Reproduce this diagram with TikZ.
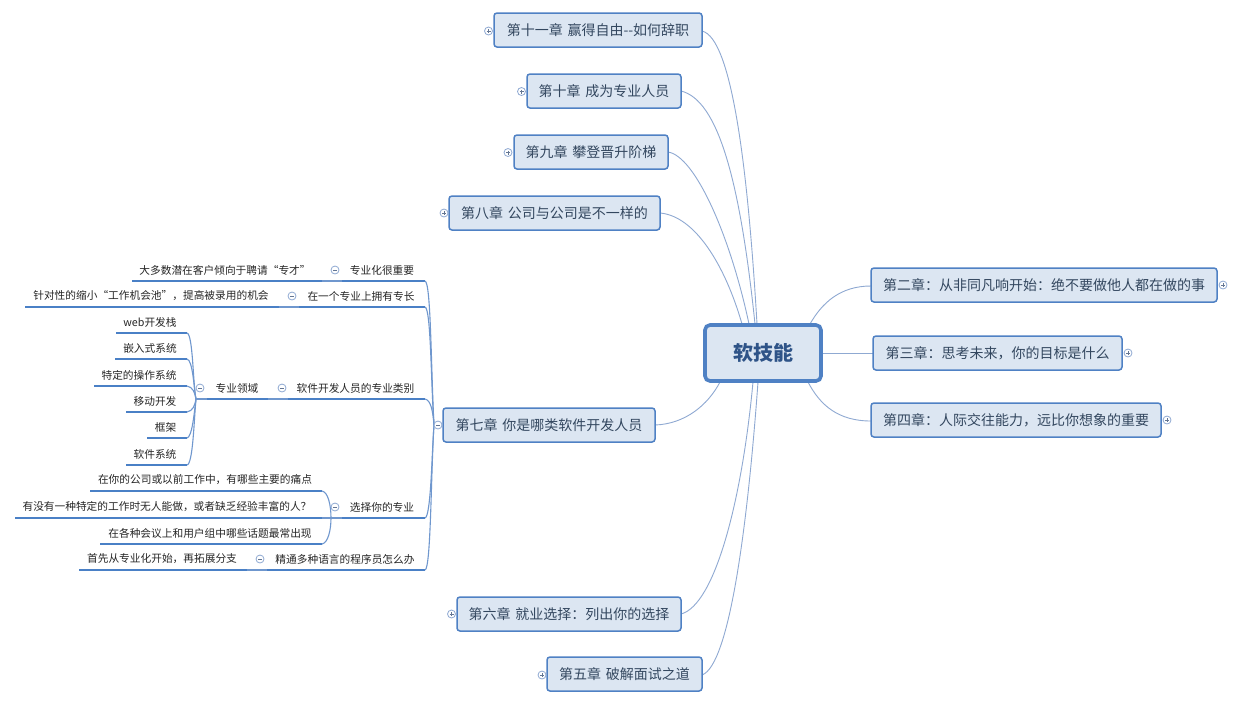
\documentclass[tikz,border=0pt]{standalone}
\usepackage{fontspec}
\newfontfamily\cjk{Noto Sans CJK SC}
\usetikzlibrary{calc}
\definecolor{boxfill}{HTML}{DCE6F2}
\definecolor{boxline}{HTML}{4F81C4}
\definecolor{linkc}{HTML}{8FA9D2}
\definecolor{treec}{HTML}{6F97CE}
\definecolor{ulc}{HTML}{4A80C6}
\definecolor{chaptxt}{HTML}{33475F}
\definecolor{rootxt}{HTML}{2F5488}
\definecolor{subtxt}{HTML}{262626}
\definecolor{iconc}{HTML}{8FA9D2}
\tikzset{
  chapbox/.style={draw=boxline,fill=boxfill,line width=1.5pt,rounded corners=3pt,inner sep=0pt,
    text=chaptxt,font=\cjk\fontsize{14}{16}\selectfont},
  rootbox/.style={draw=boxline,fill=boxfill,line width=3.6pt,rounded corners=5pt,inner sep=0pt,
    text=rootxt,font=\cjk\bfseries\fontsize{20}{24}\selectfont},
  subtext/.style={inner sep=0pt,text=subtxt,font=\cjk\fontsize{10.7}{12}\selectfont},
  ul/.style={draw=ulc,line width=2.3pt},
  link/.style={draw=linkc,line width=0.9pt},
  treelink/.style={draw=treec,line width=1.1pt},
  ico/.style={circle,draw=iconc,fill=white,line width=0.8pt,minimum size=8pt,inner sep=0pt},
}
\newcommand{\wsp}{\ \hspace{1.6pt}}
% name, x1, y1, x2, y2, text
\newcommand{\chapnode}[6]{\node[chapbox,minimum width=#4pt-#2pt,minimum height=#5pt-#3pt] (#1) at ({(#2+#4)/2},{(#3+#5)/2}) {#6};}
% name, x1, x2, y, text centre, text
\newcommand{\leafnode}[6]{\coordinate (#1-l) at (#2,#4);\coordinate (#1-r) at (#3,#4);
  \draw[ul] (#1-l) -- (#1-r);
  \node[subtext,anchor=center] (#1) at (#5,#4-11) {#6};}
\newcommand{\plusicon}[3]{\node[ico] (#1) at (#2,#3) {};\draw[draw=iconc!70!black,line width=0.7pt] ($(#1)+(-2,0)$) -- ($(#1)+(2,0)$) ($(#1)+(0,-2)$) -- ($(#1)+(0,2)$);}
\newcommand{\minusicon}[3]{\node[ico] (#1) at (#2,#3) {};\draw[draw=iconc!70!black,line width=0.7pt] ($(#1)+(-2,0)$) -- ($(#1)+(2,0)$);}
\begin{document}
\begin{tikzpicture}[x=1pt,y=-1pt]
\useasboundingbox[fill=white] (0,0) rectangle (1240,705);
% anchors on the root
\coordinate (rt1) at (757,324);\coordinate (rt2) at (755,324);\coordinate (rt3) at (749,324);\coordinate (rt4) at (742,324);
\coordinate (rb1) at (758,382);\coordinate (rb2) at (753,382);\coordinate (rb3) at (720,382);
\coordinate (rr1) at (810,324);\coordinate (rr2) at (822,353);\coordinate (rr3) at (808,382);
% connectors first
\coordinate (a11) at (702,31);\coordinate (a10) at (681,91);\coordinate (a9) at (668,152);\coordinate (a8) at (660,213);
\coordinate (a7) at (655,425);\coordinate (a6) at (681,614);\coordinate (a5) at (702,675);
\coordinate (a2) at (871,286);\coordinate (a3) at (873,353);\coordinate (a4) at (871,421);
\draw[link] (a11) .. controls (732,38) and (748,170) .. (rt1);
\draw[link] (a10) .. controls (718,100) and (740,180) .. (rt2);
\draw[link] (a9) .. controls (695,156) and (730,235) .. (rt3);
\draw[link] (a8) .. controls (695,216) and (725,265) .. (rt4);
\draw[link] (a7) .. controls (685,424) and (708,405) .. (rb3);
\draw[link] (a6) .. controls (715,605) and (742,500) .. (rb2);
\draw[link] (a5) .. controls (730,665) and (748,520) .. (rb1);
\draw[link] (a2) .. controls (840,286) and (822,303) .. (rr1);
\draw[link] (a3) -- (rr2);
\draw[link] (a4) .. controls (838,421) and (820,405) .. (rr3);
% chapter boxes
\node[rootbox,minimum width=116pt,minimum height=56pt] (root) at (763,353) {软技能};
\chapnode{c11}{494}{13}{702}{47}{第十一章\wsp 赢得自由--如何辞职}
\chapnode{c10}{527}{74}{681}{108}{第十章\wsp 成为专业人员}
\chapnode{c9}{514}{135}{668}{169}{第九章\wsp 攀登晋升阶梯}
\chapnode{c8}{449}{196}{660}{230}{第八章\wsp 公司与公司是不一样的}
\chapnode{c7}{443}{408}{655}{442}{第七章\wsp 你是哪类软件开发人员}
\chapnode{c6}{457}{597}{681}{631}{第六章\wsp 就业选择：列出你的选择}
\chapnode{c5}{547}{657}{702}{691}{第五章\wsp 破解面试之道}
\chapnode{c2}{871}{268}{1217}{302}{第二章：从非同凡响开始：绝不要做他人都在做的事}
\chapnode{c3}{873}{336}{1122}{370}{第三章：思考未来，你的目标是什么}
\chapnode{c4}{871}{403}{1161}{437}{第四章：人际交往能力，远比你想象的重要}
% level 2 and below
\leafnode{zy}{342}{425}{281}{382}{专业化很重要}
\leafnode{zyl}{132}{322}{281}{225}{大多数潜在客户倾向于聘请“专才”}
\leafnode{yg}{299}{425}{307}{361}{在一个专业上拥有专长}
\leafnode{ygl}{25}{279}{307}{151}{针对性的缩小“工作机会池”，提高被录用的机会}
\leafnode{lb}{288}{425}{399}{355.5}{软件开发人员的专业类别}
\leafnode{ly}{207}{268}{399}{237}{专业领域}
\leafnode{w1}{116}{187}{333}{150}{web开发栈}
\leafnode{w2}{115}{187}{359}{150}{嵌入式系统}
\leafnode{w3}{94}{187}{386}{139}{特定的操作系统}
\leafnode{w4}{126}{187}{412}{155}{移动开发}
\leafnode{w5}{147}{187}{438}{165.5}{框架}
\leafnode{w6}{126}{187}{465}{155}{软件系统}
\leafnode{xz}{342}{425}{518}{382}{选择你的专业}
\leafnode{x1}{90}{322}{491}{205}{在你的公司或以前工作中，有哪些主要的痛点}
\leafnode{x2}{15}{322}{518}{167}{有没有一种特定的工作时无人能做，或者缺乏经验丰富的人？}
\leafnode{x3}{100}{322}{544}{210}{在各种会议上和用户组中哪些话题最常出现}
\leafnode{jt}{267}{425}{570}{345}{精通多种语言的程序员怎么办}
\leafnode{jtl}{79}{247}{570}{162}{首先从专业化开始，再拓展分支}
% tree links
\coordinate (t7) at (434,425);
\draw[treelink] (zy-r) .. controls (431,282) and (431,370) .. (t7);
\draw[treelink] (yg-r) .. controls (431,308) and (431,385) .. (t7);
\draw[treelink] (lb-r) .. controls (431,400) and (433,412) .. (t7);
\draw[treelink] (xz-r) .. controls (431,517) and (432,450) .. (t7);
\draw[treelink] (jt-r) .. controls (431,569) and (431,470) .. (t7);
\draw[treelink] (t7) -- (c7.west);
\draw[treelink] (zyl-r) -- (zy-l);
\draw[treelink] (ygl-r) -- (yg-l);
\draw[treelink] (ly-r) -- (lb-l);
\draw[treelink] (jtl-r) -- (jt-l);
\coordinate (tw) at (196,399);
\draw[treelink] (tw) -- (ly-l);
\draw[treelink] (w1-r) .. controls (193,334) and (193,385) .. (tw);
\draw[treelink] (w2-r) .. controls (193,360) and (194,390) .. (tw);
\draw[treelink] (w3-r) .. controls (193,387) and (195,393) .. (tw);
\draw[treelink] (w4-r) .. controls (193,411) and (195,405) .. (tw);
\draw[treelink] (w5-r) .. controls (192,437) and (194,415) .. (tw);
\draw[treelink] (w6-r) .. controls (193,464) and (194,420) .. (tw);
\coordinate (tx) at (331,518);
\draw[treelink] (tx) -- (xz-l);
\draw[treelink] (x1-r) .. controls (328,492) and (331,505) .. (tx);
\draw[treelink] (x2-r) -- (tx);
\draw[treelink] (x3-r) .. controls (328,543) and (331,530) .. (tx);
% icons
\plusicon{p11}{488.5}{31}
\plusicon{p10}{521.5}{91.5}
\plusicon{p9}{508}{152.5}
\plusicon{p8}{444}{213}
\plusicon{p6}{451.5}{614}
\plusicon{p5}{542}{675}
\plusicon{p2}{1223}{285}
\plusicon{p3}{1128}{353}
\plusicon{p4}{1167}{420}
\minusicon{m7}{438}{425}
\minusicon{m1}{335}{270}
\minusicon{m2}{292}{296}
\minusicon{m3}{282}{388}
\minusicon{m4}{200}{388}
\minusicon{m5}{335}{507}
\minusicon{m6}{260}{559}
\end{tikzpicture}
\end{document}
